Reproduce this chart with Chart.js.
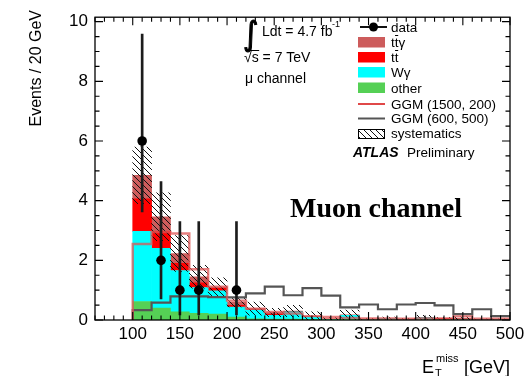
<!DOCTYPE html>
<html>
<head>
<meta charset="utf-8">
<script src="https://cdn.jsdelivr.net/npm/chart.js@4.4.1/dist/chart.umd.min.js"></script>
<style>
  html, body { margin: 0; padding: 0; background: #fff; }
  #wrap { width: 530px; height: 376px; }
</style>
</head>
<body>
<div id="wrap"><canvas id="c" width="530" height="376"></canvas></div>
<script>
// Missing transverse energy, muon channel: 20 GeV bins from 100 to 500 GeV
const binEdges = [100,120,140,160,180,200,220,240,260,280,300,320,340,360,380,400,420,440,460,480,500];

// Stacked Standard Model backgrounds (events per bin)
const otherBkg = [0.62,0.40,0.27,0.22,0.20,0.10,0.04,0.03,0.03,0.02,0.01,0.02,0.01,0.01,0.01,0.01,0.01,0.00,0.00,0.00];
const wGamma   = [2.35,2.00,1.39,0.87,0.78,0.33,0.29,0.13,0.24,0.08,0.01,0.14,0.01,0.04,0.01,0.07,0.00,0.00,0.01,0.01];
const ttbar    = [1.09,0.57,0.24,0.16,0.08,0.06,0.02,0.04,0.01,0.01,0.01,0.00,0.00,0.00,0.00,0.00,0.04,0.00,0.00,0.00];
const ttGamma  = [0.79,0.49,0.33,0.20,0.04,0.11,0.03,0.05,0.02,0.01,0.01,0.01,0.01,0.00,0.01,0.00,0.00,0.06,0.01,0.01];
const systematics = [0.95,0.80,0.60,0.38,0.31,0.16,0.22,0.14,0.19,0.15,0.05,0.16,0.03,0.05,0.03,0.08,0.04,0.05,0.02,0.02];

// Signal benchmark points
const ggm1500 = [2.55,2.95,2.90,1.70,1.12,0.65,0.38,0.27,0.22,0.13,0.10,0.07,0.05,0.05,0.04,0.05,0.05,0.12,0.04,0.04];
const ggm600  = [0.33,0.58,0.79,0.79,0.77,0.76,0.89,1.12,0.83,1.07,0.82,0.42,0.52,0.36,0.52,0.57,0.49,0.20,0.36,0.13];

// Observed events with asymmetric (Poisson) uncertainties
const dataCounts  = [6,2,1,1,0,1,0,0,0,0,0,0,0,0,0,0,0,0,0,0];
const dataErrDown = [2.38,1.29,0.83,0.83,0,0.83,0,0,0,0,0,0,0,0,0,0,0,0,0,0];
const dataErrUp   = [3.58,2.64,2.30,2.30,0,2.30,0,0,0,0,0,0,0,0,0,0,0,0,0,0];

// Axis labels
const xTicks = [100,150,200,250,300,350,400,450,500];
const yTicks = [0,2,4,6,8,10];

const FONT = "'Liberation Sans', Arial, Helvetica, sans-serif";
const COL = { other: '#55d055', wg: '#00ffff', tt: '#ff0000', ttg: '#cd5c5c',
              g1500: 'rgba(222,84,84,0.75)', g600: '#555555' };

const nBins = binEdges.length - 1;
const centers = binEdges.slice(0, -1).map((e, i) => (e + binEdges[i + 1]) / 2);

// hatch pattern for the systematic band
function makeHatch() {
  const s = 6, c = document.createElement('canvas');
  c.width = s; c.height = s;
  const g = c.getContext('2d');
  g.strokeStyle = '#111'; g.lineWidth = 1;
  g.beginPath();
  g.moveTo(-1, -1); g.lineTo(s + 1, s + 1);
  g.moveTo(-1, s - 1); g.lineTo(1, s + 1);
  g.moveTo(s - 1, -1); g.lineTo(s + 1, 1);
  g.stroke();
  return g.createPattern(c, 'repeat');
}
const hatch = makeHatch();

// floating-bar segments for the stack
const layers = [
  { label: 'other', vals: otherBkg, color: COL.other },
  { label: 'Wγ', vals: wGamma, color: COL.wg },
  { label: 'tt̄', vals: ttbar, color: COL.tt },
  { label: 'tt̄γ', vals: ttGamma, color: COL.ttg }
];
const base = new Array(nBins).fill(0);
const stackSets = layers.map((L, k) => {
  const d = centers.map((x, i) => ({ x, y: [base[i], base[i] + L.vals[i]] }));
  L.vals.forEach((v, i) => { base[i] += v; });
  return {
    type: 'bar', label: L.label, data: d, backgroundColor: L.color,
    borderWidth: 0, grouped: false, categoryPercentage: 1, barPercentage: 1,
    order: 10 + k
  };
});
const totals = base.slice();

const sysSet = {
  type: 'bar', label: 'systematics',
  data: centers.map((x, i) => ({ x, y: [Math.max(0, totals[i] - systematics[i]), totals[i] + systematics[i]] })),
  backgroundColor: hatch, borderWidth: 0, grouped: false,
  categoryPercentage: 1, barPercentage: 1, order: 5
};

function stepPoints(vals) {
  const pts = [{ x: binEdges[0], y: 0 }];
  vals.forEach((v, i) => pts.push({ x: binEdges[i], y: v }));
  pts.push({ x: binEdges[nBins], y: vals[nBins - 1] });
  return pts;
}
const lineSet = (label, vals, color, w, order) => ({
  type: 'line', label, data: stepPoints(vals), stepped: true, fill: false,
  borderColor: color, borderWidth: w, pointRadius: 0, tension: 0, order
});

const obs = centers.map((x, i) => ({ x, i })).filter(p => dataCounts[p.i] > 0);
const errSet = {
  type: 'bar', label: 'data errors',
  data: obs.map(p => ({ x: p.x, y: [dataCounts[p.i] - dataErrDown[p.i], dataCounts[p.i] + dataErrUp[p.i]] })),
  backgroundColor: '#1c1c1c', borderWidth: 0, grouped: false, barThickness: 2, order: 1
};
const dataSet = {
  type: 'line', label: 'data', showLine: false,
  data: obs.map(p => ({ x: p.x, y: dataCounts[p.i] })),
  pointRadius: 4.8, pointBackgroundColor: '#000', pointBorderWidth: 0, order: 0
};

// ROOT-like frame with inward ticks on all sides
const framePlugin = {
  id: 'frame',
  afterDatasetsDraw(chart) {
    const { ctx, chartArea: a, scales: { x, y } } = chart;
    ctx.save();
    ctx.strokeStyle = '#000';
    ctx.lineWidth = 1.3;
    ctx.strokeRect(a.left, a.top, a.right - a.left, a.bottom - a.top);
    ctx.lineWidth = 1.1;
    ctx.beginPath();
    for (let v = 60; v <= 500; v += 10) {
      const px = x.getPixelForValue(v);
      const len = v % 50 === 0 ? 8 : 4.5;
      ctx.moveTo(px, a.bottom); ctx.lineTo(px, a.bottom - len);
      ctx.moveTo(px, a.top); ctx.lineTo(px, a.top + len);
    }
    for (let k = 0; k <= 20; k++) {
      const v = k * 0.5;
      const py = y.getPixelForValue(v);
      const len = k % 4 === 0 ? 8 : 4.5;
      ctx.moveTo(a.left, py); ctx.lineTo(a.left + len, py);
      ctx.moveTo(a.right, py); ctx.lineTo(a.right - len, py);
    }
    ctx.stroke();
    ctx.restore();
  }
};

// legend, labels and axis titles
const textPlugin = {
  id: 'texts',
  afterDraw(chart) {
    const ctx = chart.ctx;
    ctx.save();
    ctx.fillStyle = '#000';
    ctx.textBaseline = 'alphabetic';
    ctx.textAlign = 'left';

    // y title
    ctx.save();
    ctx.font = '16px ' + FONT;
    ctx.translate(41, 10);
    ctx.rotate(-Math.PI / 2);
    ctx.textAlign = 'right';
    ctx.fillText('Events / 20 GeV', 0, 0);
    ctx.restore();

    // x title
    ctx.font = '18px ' + FONT;
    ctx.fillText('E', 422, 373);
    ctx.font = '11px ' + FONT;
    ctx.fillText('miss', 436, 362);
    ctx.fillText('T', 435, 377);
    ctx.font = '18px ' + FONT;
    ctx.fillText('[GeV]', 464, 373);

    // luminosity / energy block: integral sign scaled to 33 px height
    ctx.save();
    ctx.font = "30px 'DejaVu Sans', sans-serif";
    const m = ctx.measureText('∫');
    const gh = m.actualBoundingBoxAscent + m.actualBoundingBoxDescent;
    const sc = 33 / Math.max(gh, 1);
    ctx.translate(244, 20);
    ctx.scale(sc * 0.9, sc);
    ctx.strokeStyle = '#000';
    ctx.lineWidth = 1.1 / sc;
    ctx.fillText('∫', m.actualBoundingBoxLeft, m.actualBoundingBoxAscent);
    ctx.strokeText('∫', m.actualBoundingBoxLeft, m.actualBoundingBoxAscent);
    ctx.restore();

    ctx.font = '14px ' + FONT;
    ctx.fillText('Ldt = 4.7 fb', 262, 36);
    ctx.font = '9px ' + FONT;
    ctx.fillText('-1', 332, 27);
    ctx.font = '14px ' + FONT;
    const rw = ctx.measureText('√').width;
    ctx.fillText('√', 244, 62);
    const sw = ctx.measureText('s').width;
    ctx.fillText('s = 7 TeV', 244 + rw, 62);
    ctx.lineWidth = 1;
    ctx.strokeStyle = '#000';
    ctx.beginPath();
    ctx.moveTo(244 + rw - 1, 50.5); ctx.lineTo(244 + rw + sw + 0.5, 50.5);
    ctx.stroke();
    ctx.fillText('μ channel', 245, 83);

    // legend
    const lx = 358, tx = 391;
    ctx.font = '13.5px ' + FONT;
    ctx.lineWidth = 2; ctx.strokeStyle = '#111';
    ctx.beginPath(); ctx.moveTo(360, 27); ctx.lineTo(387, 27); ctx.stroke();
    ctx.beginPath(); ctx.arc(373.5, 27, 4.5, 0, Math.PI * 2); ctx.fill();
    ctx.fillText('data', tx, 32);
    const boxes = [
      { c: COL.ttg, b: 47, t: 'ttγ', bar: true },
      { c: COL.tt, b: 62, t: 'tt', bar: true },
      { c: COL.wg, b: 77, t: 'Wγ' },
      { c: COL.other, b: 92.5, t: 'other' }
    ];
    boxes.forEach(B => {
      ctx.fillStyle = B.c;
      ctx.fillRect(lx, B.b - 10, 27, 10.5);
      ctx.fillStyle = '#000';
      ctx.fillText(B.t, tx, B.b);
      if (B.bar) {
        const w1 = ctx.measureText('t').width;
        ctx.lineWidth = 1; ctx.strokeStyle = '#000';
        ctx.beginPath();
        ctx.moveTo(tx + w1 + 0.3, B.b - 11.5); ctx.lineTo(tx + 2 * w1 - 0.3, B.b - 11.5);
        ctx.stroke();
      }
    });
    ctx.lineWidth = 2;
    ctx.strokeStyle = '#e04848';
    ctx.beginPath(); ctx.moveTo(lx, 104); ctx.lineTo(lx + 27, 104); ctx.stroke();
    ctx.fillText('GGM (1500, 200)', tx, 108.5);
    ctx.strokeStyle = COL.g600;
    ctx.beginPath(); ctx.moveTo(lx, 118.5); ctx.lineTo(lx + 27, 118.5); ctx.stroke();
    ctx.fillText('GGM (600, 500)', tx, 123);
    ctx.fillStyle = hatch;
    ctx.fillRect(lx, 129, 27, 9.5);
    ctx.lineWidth = 1; ctx.strokeStyle = '#000';
    ctx.strokeRect(lx + 0.5, 129.5, 26, 9);
    ctx.fillStyle = '#000';
    ctx.fillText('systematics', tx, 137.5);
    ctx.font = 'italic bold 14px ' + FONT;
    ctx.fillText('ATLAS', 353, 157);
    ctx.font = '13.5px ' + FONT;
    ctx.fillText('Preliminary', 407, 157);

    // channel tag
    ctx.font = "bold 28px 'Liberation Serif', 'Times New Roman', serif";
    ctx.fillText('Muon channel', 290, 217);
    ctx.restore();
  }
};

new Chart(document.getElementById('c'), {
  type: 'bar',
  data: {
    datasets: [dataSet, errSet,
      lineSet('GGM (1500, 200)', ggm1500, COL.g1500, 2.4, 2),
      lineSet('GGM (600, 500)', ggm600, COL.g600, 2.2, 3),
      sysSet, ...stackSets]
  },
  options: {
    responsive: false,
    devicePixelRatio: 1,
    animation: false,
    layout: { padding: { left: 0, right: 20, top: 10, bottom: 0 } },
    plugins: { legend: { display: false }, tooltip: { enabled: false } },
    scales: {
      x: {
        type: 'linear', min: 60, max: 500, offset: false,
        grid: { display: false, drawTicks: false }, border: { display: false },
        ticks: { color: '#000', font: { family: FONT, size: 17 }, padding: 4, maxRotation: 0, autoSkip: false },
        afterBuildTicks: s => { s.ticks = xTicks.map(v => ({ value: v })); },
        afterFit: s => { s.height = 56; }
      },
      y: {
        type: 'linear', min: 0, max: 10.15,
        grid: { display: false, drawTicks: false }, border: { display: false },
        ticks: { color: '#000', font: { family: FONT, size: 17 }, padding: 7 },
        afterBuildTicks: s => { s.ticks = yTicks.map(v => ({ value: v })); },
        afterFit: s => { s.width = 95; }
      }
    }
  },
  plugins: [framePlugin, textPlugin]
});
</script>
</body>
</html>
